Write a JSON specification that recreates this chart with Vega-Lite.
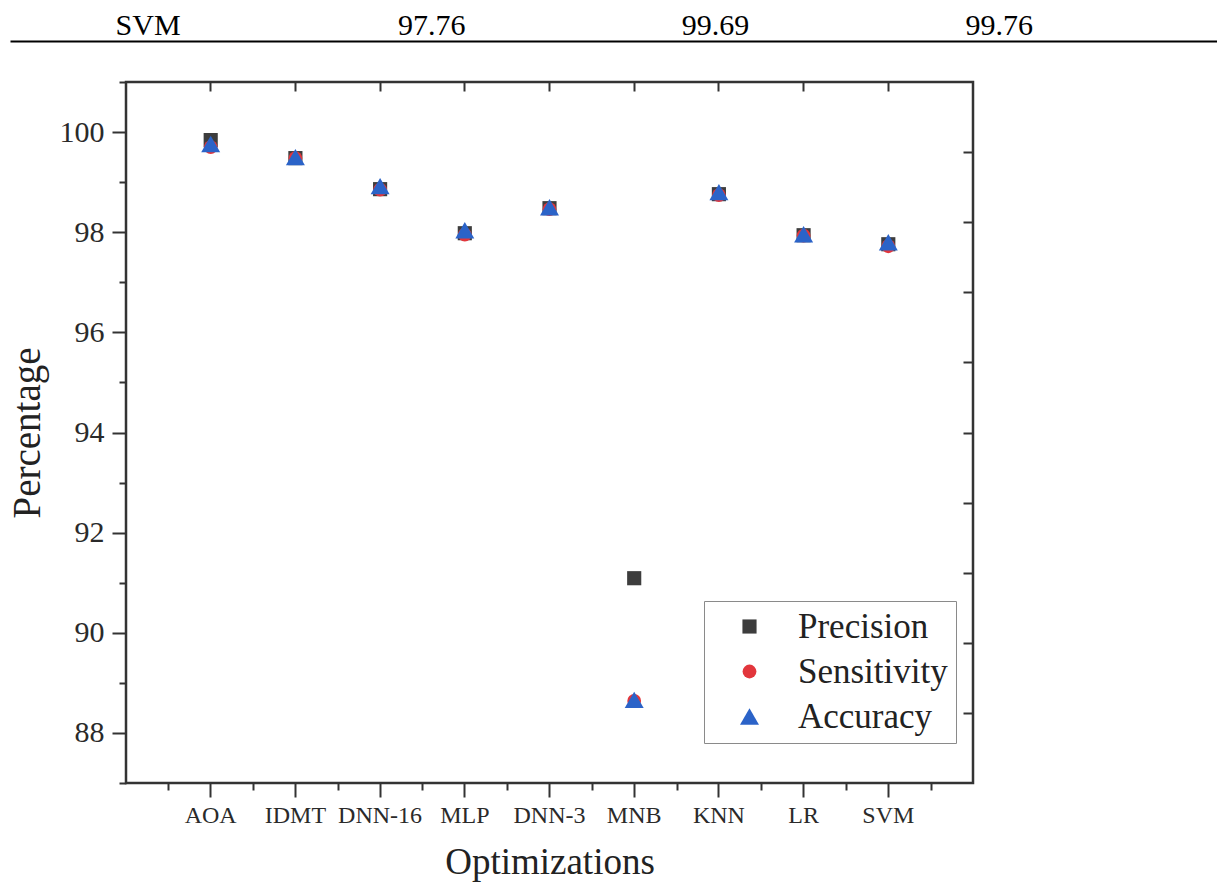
{
  "$schema": "https://vega.github.io/schema/vega-lite/v6.json",
  "padding": {"left": 6, "top": 0, "right": 0, "bottom": 0},
  "background": "white",
  "spacing": 38,
  "config": {
    "font": "Liberation Serif",
    "view": {"stroke": null},
    "axis": {"grid": false, "labelFont": "Liberation Serif", "titleFont": "Liberation Serif", "titleFontWeight": "normal", "labelColor": "#2a2a2a", "titleColor": "#222", "tickColor": "#333", "tickWidth": 2, "domain": false}
  },
  "datasets": {
    "header": [
      {"column": "c1", "text": "SVM"},
      {"column": "c2", "text": "97.76"},
      {"column": "c3", "text": "99.69"},
      {"column": "c4", "text": "99.76"}
    ],
    "scores": [
      {"model": "AOA", "metric": "Precision", "value": 99.84},
      {"model": "AOA", "metric": "Sensitivity", "value": 99.70},
      {"model": "AOA", "metric": "Accuracy", "value": 99.76},
      {"model": "IDMT", "metric": "Precision", "value": 99.48},
      {"model": "IDMT", "metric": "Sensitivity", "value": 99.48},
      {"model": "IDMT", "metric": "Accuracy", "value": 99.50},
      {"model": "DNN-16", "metric": "Precision", "value": 98.86},
      {"model": "DNN-16", "metric": "Sensitivity", "value": 98.85},
      {"model": "DNN-16", "metric": "Accuracy", "value": 98.92},
      {"model": "MLP", "metric": "Precision", "value": 97.98},
      {"model": "MLP", "metric": "Sensitivity", "value": 97.95},
      {"model": "MLP", "metric": "Accuracy", "value": 98.04},
      {"model": "DNN-3", "metric": "Precision", "value": 98.48},
      {"model": "DNN-3", "metric": "Sensitivity", "value": 98.46},
      {"model": "DNN-3", "metric": "Accuracy", "value": 98.50},
      {"model": "MNB", "metric": "Precision", "value": 91.09},
      {"model": "MNB", "metric": "Sensitivity", "value": 88.64},
      {"model": "MNB", "metric": "Accuracy", "value": 88.66},
      {"model": "KNN", "metric": "Precision", "value": 98.76},
      {"model": "KNN", "metric": "Sensitivity", "value": 98.74},
      {"model": "KNN", "metric": "Accuracy", "value": 98.80},
      {"model": "LR", "metric": "Precision", "value": 97.94},
      {"model": "LR", "metric": "Sensitivity", "value": 97.93},
      {"model": "LR", "metric": "Accuracy", "value": 97.96},
      {"model": "SVM", "metric": "Precision", "value": 97.76},
      {"model": "SVM", "metric": "Sensitivity", "value": 97.72},
      {"model": "SVM", "metric": "Accuracy", "value": 97.80}
    ]
  },
  "vconcat": [
    {
      "width": 1091,
      "height": 41,
      "data": {"name": "header"},
      "mark": {"type": "text", "font": "Liberation Serif", "fontSize": 30, "color": "black", "baseline": "alphabetic", "dy": 14.5},
      "encoding": {
        "x": {"field": "column", "type": "ordinal", "scale": {"type": "point", "padding": 0.627, "align": 0.388, "range": [-116, 1091]},
              "axis": {"orient": "bottom", "domain": true, "domainColor": "black", "domainWidth": 2, "ticks": false, "labels": false, "title": null}},
        "text": {"field": "text", "type": "nominal"}
      }
    },
    {
      "width": 847,
      "height": 701,
      "view": {"stroke": "#333", "strokeWidth": 2.5},
      "data": {"name": "scores"},
      "resolve": {"axis": {"x": "independent", "y": "independent"}},
      "layer": [
        {
          "mark": {"type": "point", "filled": true, "opacity": 0},
          "encoding": {
            "x": {"field": "model", "type": "nominal", "sort": null,
                  "axis": {"orient": "bottom", "tickBand": "extent", "labels": false, "title": null, "tickSize": 7}},
            "y": {"field": "value", "type": "quantitative",
                  "axis": {"orient": "right", "values": [99.6, 98.2, 96.8, 95.4, 94.0, 92.6, 91.2, 89.8, 88.4], "tickSize": -10, "labels": false, "title": null}}
          }
        },
        {
          "mark": {"type": "point", "filled": true, "opacity": 0},
          "encoding": {
            "x": {"field": "model", "type": "nominal", "sort": null,
                  "axis": {"orient": "top", "labels": false, "title": null, "tickSize": -9}},
            "y": {"field": "value", "type": "quantitative", "axis": null}
          }
        },
        {
          "mark": {"type": "point", "filled": true, "opacity": 1, "strokeWidth": 0},
          "encoding": {
            "x": {"field": "model", "type": "nominal", "sort": null,
                  "scale": {"type": "band", "paddingInner": 0, "paddingOuter": 0.5},
                  "axis": {"orient": "bottom", "title": "Optimizations", "titleFontSize": 37, "titlePadding": 17, "labelFontSize": 24, "labelPadding": 6, "labelAngle": 0, "tickSize": 14}},
            "y": {"field": "value", "type": "quantitative",
                  "scale": {"domain": [87, 101], "nice": false, "zero": false},
                  "axis": {"orient": "left", "title": "Percentage", "titleFontSize": 39, "titlePadding": 12,
                           "values": [87, 88, 89, 90, 91, 92, 93, 94, 95, 96, 97, 98, 99, 100, 101],
                           "labelExpr": "datum.value % 2 == 0 ? datum.label : ''",
                           "tickSize": {"condition": {"test": "datum.value % 2 == 1", "value": 7}, "value": 14},
                           "labelFontSize": 30, "labelPadding": 8}},
            "color": {"field": "metric", "type": "nominal",
                      "scale": {"domain": ["Precision", "Sensitivity", "Accuracy"], "range": ["#3d3d3d", "#e2363c", "#2b63c8"]},
                      "legend": {"orient": "none", "legendX": 578, "legendY": 601, "title": null, "fillColor": "white", "strokeColor": "#8a8a8a", "padding": 8, "symbolOffset": 20, "labelOffset": 31, "labelFontSize": 35, "labelFont": "Liberation Serif", "labelColor": "#222", "rowPadding": 9, "symbolSize": 260, "symbolStrokeWidth": 0}},
            "shape": {"field": "metric", "type": "nominal",
                      "scale": {"domain": ["Precision", "Sensitivity", "Accuracy"], "range": ["square", "circle", "triangle-up"]}},
            "size": {"field": "metric", "type": "nominal",
                     "scale": {"type": "ordinal", "domain": ["Precision", "Sensitivity", "Accuracy"], "range": [200, 190, 360]}, "legend": null}
          }
        }
      ]
    }
  ]
}
